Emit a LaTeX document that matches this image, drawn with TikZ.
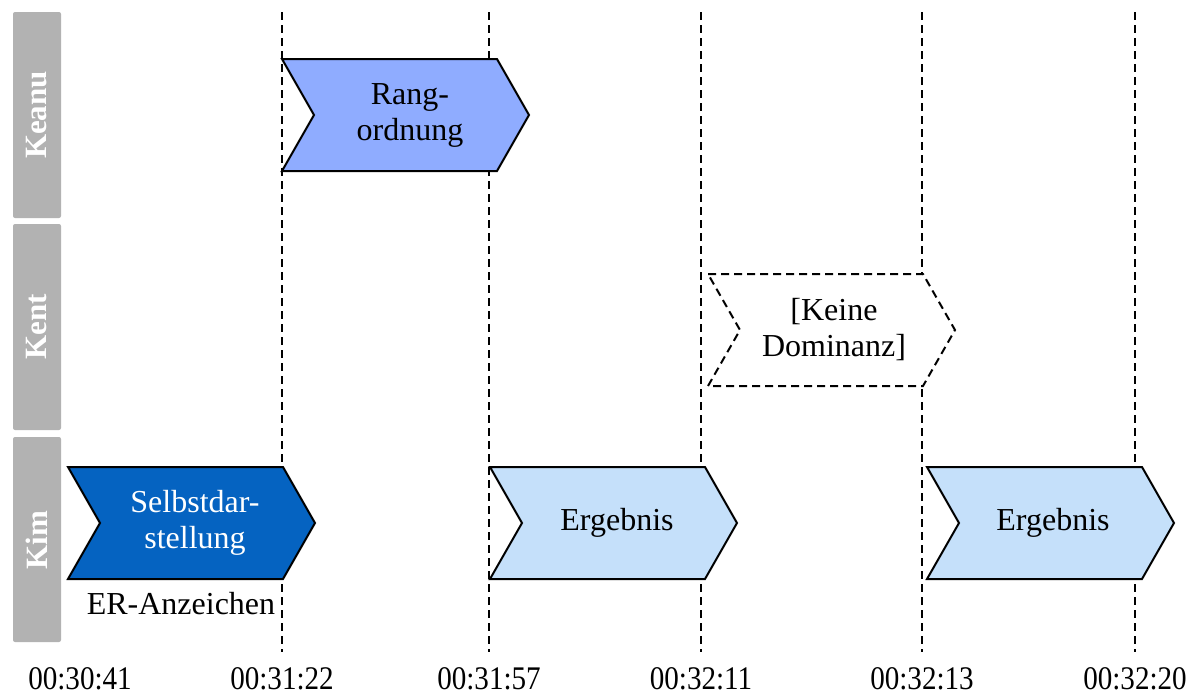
\documentclass[tikz,border=0pt]{standalone}
\usepackage{fontspec}
\setmainfont{Liberation Serif}
\definecolor{lanegray}{RGB}{178,178,178}
\definecolor{rankblue}{RGB}{143,172,255}
\definecolor{resultblue}{RGB}{197,224,250}
\definecolor{selfblue}{RGB}{5,99,193}
% chevron outline: left x, top y (body 215 wide, point depth 32, height 112)
\newcommand\chevronpath[2]{(#1,#2) -- ++(215,0) -- ++(32,56) -- ++(-32,56) -- ++(-215,0) -- ++(32,-56) -- cycle}
\begin{document}
\begin{tikzpicture}[x=0.5pt,y=-0.5pt,
  lane/.style={fill=lanegray, rounded corners=1pt},
  lanelabel/.style={text=white, font=\fontsize{15.5}{18}\selectfont\bfseries, rotate=90, inner sep=0pt},
  phase/.style={draw=black, line width=1pt, line join=miter},
  guide/.style={draw=black, dash pattern=on 4pt off 2.5pt, line width=1pt},
  lbl/.style={font=\fontsize{16}{18}\selectfont, align=center, inner sep=0pt},
  timelbl/.style={font=\fontsize{15}{18}\selectfont, inner sep=0pt}]
\useasboundingbox (0,0) rectangle (1189,696);

% swim lanes
\path[lane] (13,12) rectangle (61,218);
\path[lane] (13,224) rectangle (61,430);
\path[lane] (13,437) rectangle (61,642);
\node[lanelabel] (keanu) at (37,115) {Keanu};
\node[lanelabel] (kent) at (37,327) {Kent};
\node[lanelabel] (kim) at (37,540) {Kim};

% time marks
\foreach \x/\n in {282/g1,489/g2,701/g3,922/g4,1135/g5}{
  \coordinate (\n top) at (\x,12);
  \coordinate (\n bot) at (\x,652);
  \draw[guide] (\n top) -- (\n bot);
}
\node[timelbl] (t0) at (80,679) {\scalebox{0.97}[1.1]{00:30:41}};
\node[timelbl] (t1) at (282,679) {\scalebox{0.97}[1.1]{00:31:22}};
\node[timelbl] (t2) at (489,679) {\scalebox{0.97}[1.1]{00:31:57}};
\node[timelbl] (t3) at (701,679) {\scalebox{0.97}[1.1]{00:32:11}};
\node[timelbl] (t4) at (922,679) {\scalebox{0.97}[1.1]{00:32:13}};
\node[timelbl] (t5) at (1135,679) {\scalebox{0.97}[1.1]{00:32:20}};

% phases
\path[phase, fill=rankblue] \chevronpath{282}{59};
\node[lbl] (rang) at (410,115) {Rang-\\ordnung};

\path[phase, fill=white, dash pattern=on 4pt off 2.5pt] \chevronpath{708}{274};
\node[lbl] (keine) at (834,330) {[Keine\\Dominanz]};

\path[phase, fill=selfblue] \chevronpath{68}{467};
\node[lbl, text=white] (selbst) at (195,523) {Selbstdar-\\stellung};
\node[lbl] (er) at (181,604) {ER-Anzeichen};

\path[phase, fill=resultblue] \chevronpath{490}{467};
\node[lbl] (erg1) at (617,523) {Ergebnis};

\path[phase, fill=resultblue] \chevronpath{927}{467};
\node[lbl] (erg2) at (1053,523) {Ergebnis};
\end{tikzpicture}
\end{document}
